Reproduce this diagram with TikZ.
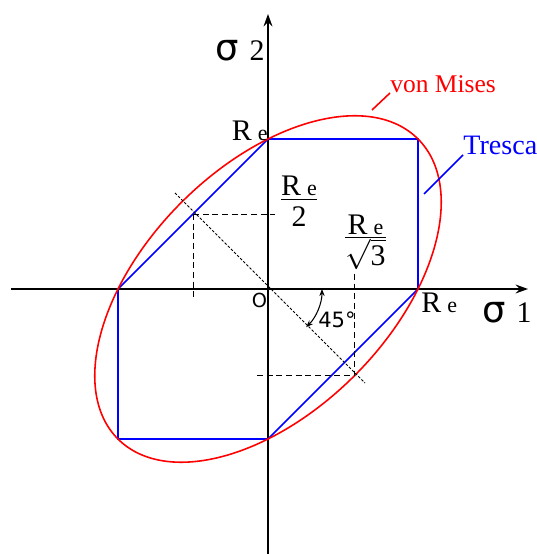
\documentclass[tikz,border=0pt]{standalone}
\usepackage{amsmath}
\usepackage{fontspec}
\setmainfont{Liberation Serif}
\newfontfamily\dejavu{DejaVu Sans}
\usepackage{tikz}
\usetikzlibrary{arrows.meta, positioning}
\definecolor{misesred}{RGB}{255, 0, 0}
\definecolor{trescablue}{RGB}{0, 0, 255}
\newcommand{\Rsub}{R\hspace{3.5pt}{\fontsize{12.5}{14}\selectfont e}}
\newcommand{\sigmalbl}[1]{{\dejavu\fontsize{21}{25}\selectfont σ}\hspace{6pt}{\fontsize{17}{20}\selectfont #1}}
\newcommand{\fracbox}[2]{{\setlength{\arrayrulewidth}{0.8pt}%
  \begin{tabular}{@{}c@{}}#1\\[-4.3pt]\hline\rule{0pt}{15pt}#2\end{tabular}}}

\begin{document}
\begin{tikzpicture}[
    axis/.style={line width=1.1pt, -{Stealth[length=7pt, width=5pt]}},
    guide/.style={line width=0.45pt, dash pattern=on 3.5pt off 2pt},
    diag/.style={line width=0.45pt, dash pattern=on 1.5pt off 1pt},
    lbl/.style={inner sep=0pt, font=\fontsize{17}{20}\selectfont}]
  \useasboundingbox (-5.36,-5.30) rectangle (5.38,5.78);

  % axes
  \coordinate (O) at (0,0);
  \coordinate (xa) at (-5.14,0); \coordinate (xb) at (5.20,0);
  \coordinate (ya) at (0,-5.30); \coordinate (yb) at (0,5.50);
  \draw[axis] (xa) -- (xb);
  \draw[axis] (ya) -- (yb);

  % Tresca hexagon
  \coordinate (t)  at (0,3);   \coordinate (tr) at (3,3);
  \coordinate (r)  at (3,0);   \coordinate (b)  at (0,-3);
  \coordinate (bl) at (-3,-3); \coordinate (l)  at (-3,0);
  \draw[trescablue, line width=0.9pt] (t) -- (tr) -- (r) -- (b) -- (bl) -- (l) -- cycle;

  % von Mises ellipse
  \draw[misesred, line width=0.9pt, rotate=45] (O) ellipse [x radius=4.243, y radius=2.449];

  % dashed construction lines
  \coordinate (d1) at (-1.86,1.92); \coordinate (d2) at (1.94,-1.88);
  \draw[diag] (d1) -- (d2);
  \coordinate (A) at (-1.5,1.5);
  \coordinate (Ah) at (0.14,1.5); \coordinate (Av) at (-1.5,-0.18);
  \draw[guide] (A) -- (Ah);
  \draw[guide] (A) -- (Av);
  \coordinate (B) at (1.732,-1.732);
  \coordinate (Bv) at (1.732,0.30); \coordinate (Bh) at (-0.22,-1.732);
  \draw[guide] (Bv) -- (B);
  \draw[guide] (Bh) -- (B);

  % 45 degree arc
  \draw[line width=0.6pt, {Stealth[length=4pt, width=3pt]}-{Stealth[length=4pt, width=3pt]}]
        ([shift={(0:1.08)}]O) arc[start angle=0, end angle=-45, radius=1.08];

  % labels
  \node[lbl, anchor=base east] (s2) at (-0.06,4.56) {\sigmalbl{2}};
  \node[lbl, anchor=base east] (s1) at (5.28,-0.66) {\sigmalbl{1}};
  \node[lbl, anchor=base east] (ret) at (0,2.97) {\Rsub};
  \node[lbl, anchor=base west] (rer) at (3.06,-0.48) {\Rsub};
  \node[lbl] (half) at (0.62,1.70) {\fracbox{\Rsub}{2}};
  \node[lbl] (root) at (1.95,0.92) {\fracbox{\Rsub}{$\sqrt{\text{3}}$}};
  \node[inner sep=0pt, font=\dejavu\fontsize{12}{14}\selectfont] (ang) at (1.38,-0.62) {45°};
  \node[inner sep=0pt, font=\dejavu\fontsize{11}{13}\selectfont] (olbl) at (-0.17,-0.23) {O};

  \node[inner sep=0pt, anchor=south west, text=misesred, font=\fontsize{14.5}{17}\selectfont] (vm) at (2.44,3.92) {von Mises};
  \node[inner sep=0pt, anchor=south west, text=trescablue, font=\fontsize{16}{19}\selectfont] (tres) at (3.90,2.68) {Tresca};
  \coordinate (vmtip) at (2.08,3.58);
  \coordinate (trtip) at (3.12,1.90);
  \draw[misesred, line width=0.9pt] (vmtip) -- (vm.south west);
  \draw[trescablue, line width=0.9pt] (trtip) -- (tres.south west);
\end{tikzpicture}
\end{document}
